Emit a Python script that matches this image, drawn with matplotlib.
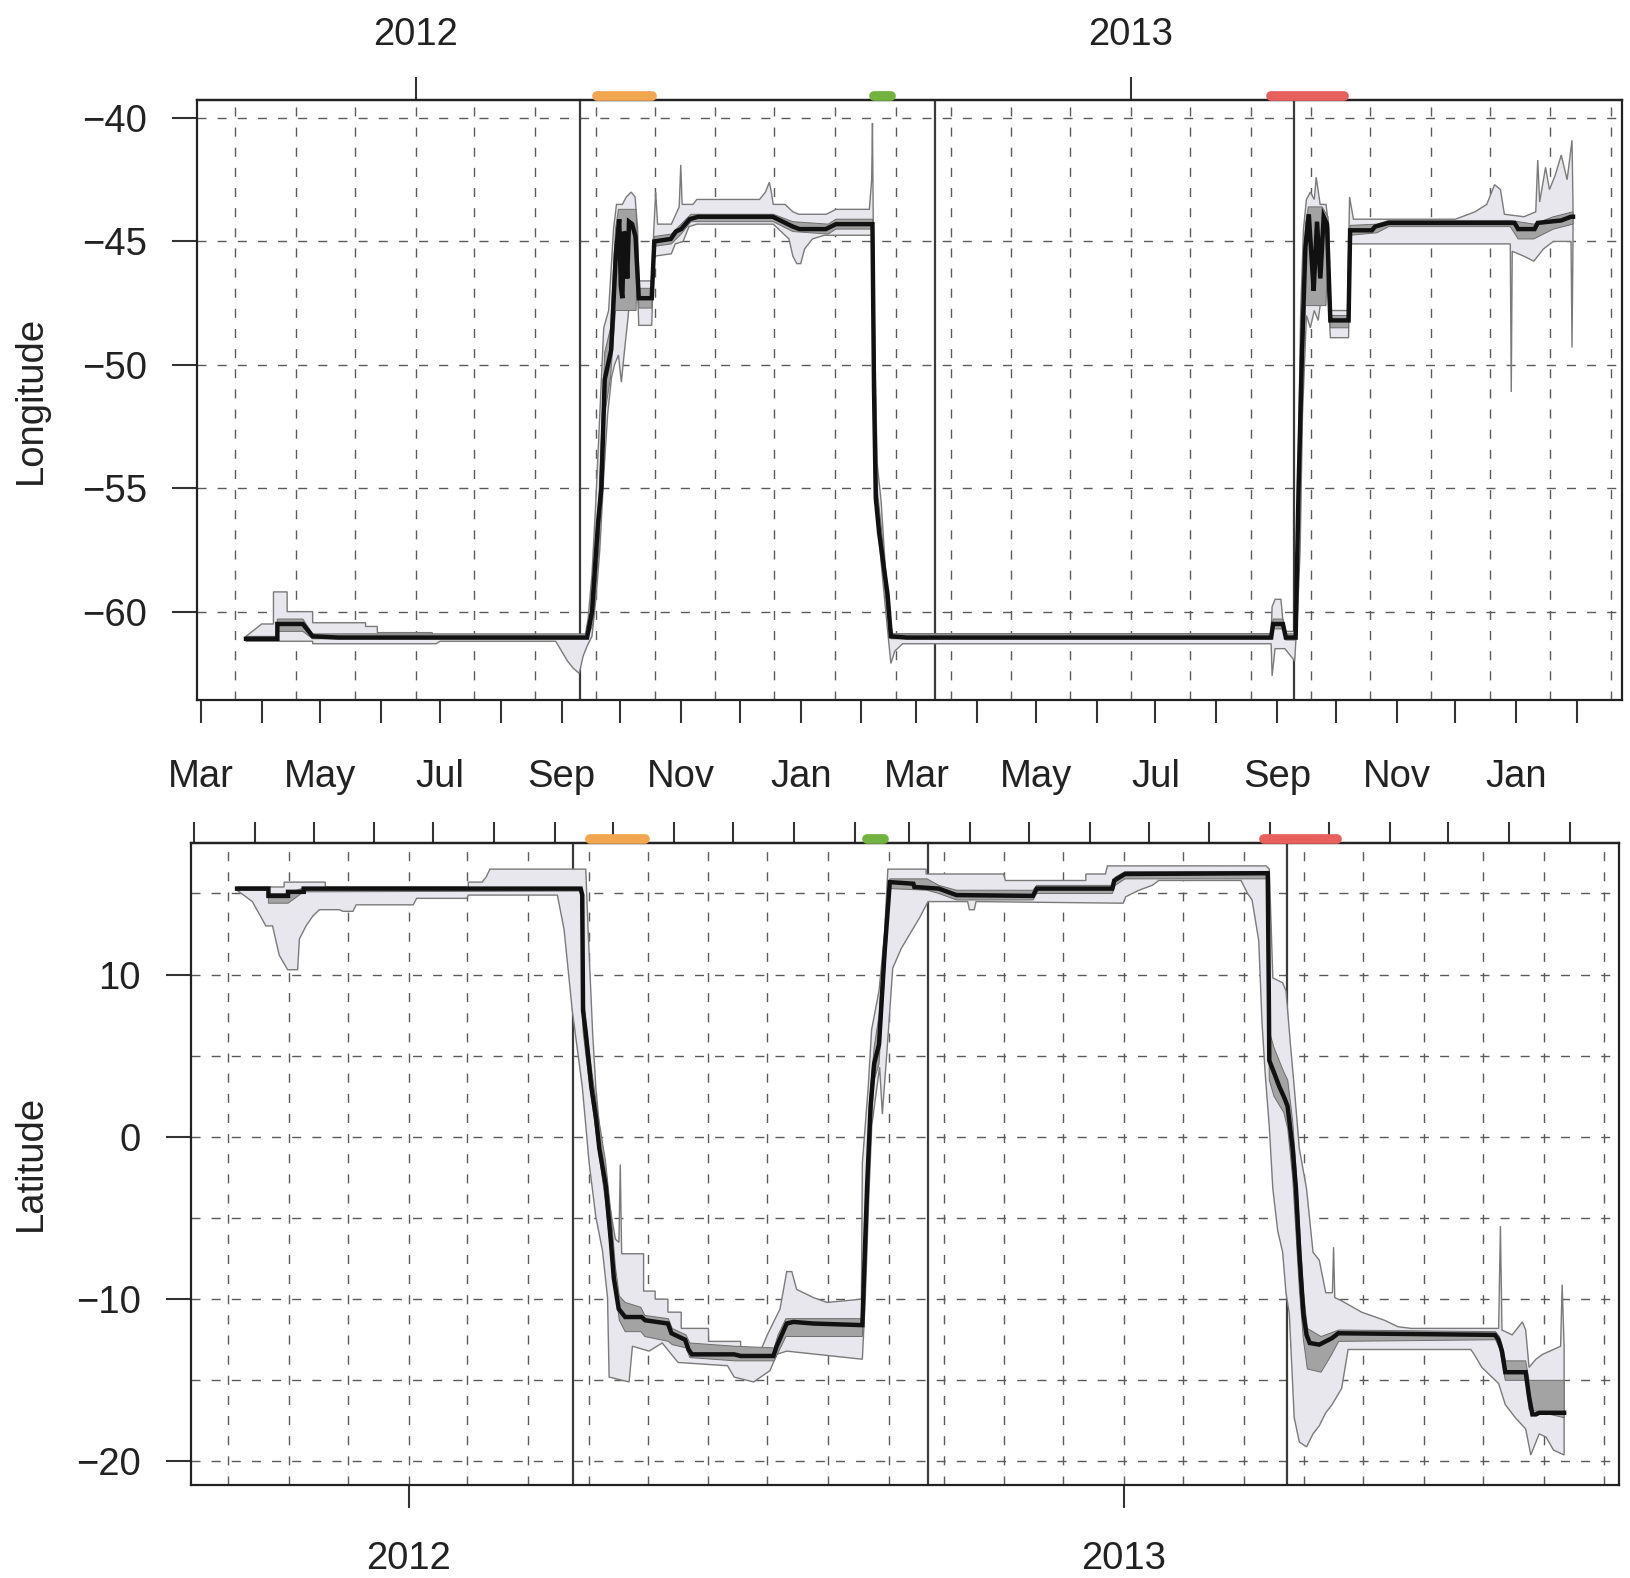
import numpy as np
import matplotlib
matplotlib.use("Agg")
import matplotlib.pyplot as plt
import matplotlib.dates as mdates
import matplotlib.transforms as mtransforms
from datetime import datetime

plt.rcParams['font.family'] = ['Liberation Sans', 'DejaVu Sans']

# ---------------- data (day offsets from 2012-03-01, value) ----------------
lon_median = [(23,-61.1),(39,-61.1),(39,-60.5),(52,-60.5),(57,-61.0),(70,-61.05),(197,-61.05),(199.5,-60.0),(202.6,-56.4),(204.3,-55.0),(206,-50.6),(209.3,-49.4),(211.7,-45.5),(213.4,-44.1),(214.2,-46.8),(215,-47.3),(215.8,-44.6),(216.7,-44.8),(217.5,-46.5),(218.4,-44.2),(220,-44.3),(221.7,-44.8),(223.4,-47.3),(230,-47.3),(231.3,-45.0),(239.7,-44.9),(242.3,-44.6),(245,-44.5),(249.3,-44.1),(253.6,-44.0),(291.7,-44.0),(302,-44.4),(305.4,-44.5),(318.8,-44.5),(324,-44.3),(342.6,-44.3),(343.4,-51.0),(344.3,-55.4),(346,-56.8),(350.3,-59.3),(352,-61.0),(360,-61.05),(546,-61.05),(547,-60.5),(552,-60.5),(553.5,-61.05),(558.5,-61.05),(560,-55),(561.8,-49.3),(563.5,-45.2),(565.2,-43.9),(566.5,-45.5),(567.7,-47.0),(569.4,-44.2),(571.1,-46.5),(572.8,-44.0),(574.5,-44.3),(576.2,-48.2),(585.5,-48.2),(586.3,-44.55),(597.4,-44.55),(599,-44.4),(605.8,-44.25),(670.2,-44.25),(672,-44.5),(680.4,-44.5),(682,-44.25),(694,-44.15),(699,-44.0),(700,-44.0)]

lon_outer_upper = [(23,-61.0),(31,-60.5),(37,-60.5),(37,-59.2),(44,-59.2),(44,-60.0),(57,-60.0),(57,-60.45),(84,-60.45),(84,-60.6),(90,-60.6),(90,-60.85),(118,-60.85),(118,-61.0),(196,-61.0),(197.5,-60.3),(199.5,-58.5),(201.5,-55.5),(203.5,-52.0),(205.5,-48.5),(208,-47.8),(210.5,-44.5),(212,-43.5),(215,-43.5),(217,-43.2),(219.5,-43.0),(221.5,-43.2),(222.8,-44.5),(223.4,-46.6),(230,-46.6),(231,-44.6),(232,-43.0),(233,-44.3),(240,-44.3),(244,-43.6),(244.8,-41.9),(245.5,-43.5),(251,-43.5),(253,-43.3),(285,-43.3),(288,-43.0),(290,-42.6),(291,-43.0),(292,-43.5),(298,-43.5),(302,-43.8),(305,-43.9),(319,-43.9),(324,-43.7),(341,-43.7),(342.2,-42.5),(342.6,-40.2),(343.0,-44.0),(343.6,-48.5),(345,-54.0),(347,-55.5),(349,-58.0),(351,-60.3),(353,-60.9),(546,-60.9),(546.5,-59.8),(548,-59.5),(551,-59.5),(552.5,-60.8),(558,-60.8),(559.5,-56.0),(561,-48.0),(562.5,-44.5),(564,-43.3),(566,-43.0),(568,-43.3),(569,-42.4),(571,-43.5),(574,-43.5),(575.5,-44.5),(576,-47.8),(585,-47.8),(586,-43.2),(588,-44.1),(640,-44.1),(650,-43.8),(656,-43.5),(660,-42.7),(663,-42.9),(665,-43.9),(675,-44.0),(681,-43.8),(682,-41.7),(683,-43.4),(686,-42.0),(688,-42.9),(691,-42.3),(694,-41.5),(697,-42.5),(699.5,-40.9),(700,-43.5)]

lon_outer_lower = [(23,-61.2),(57,-61.2),(57,-61.3),(120,-61.3),(122,-61.2),(181,-61.2),(184,-61.6),(187,-62.0),(190,-62.3),(193,-62.5),(195,-61.8),(197,-61.4),(199.5,-61.0),(201.5,-59.5),(203.5,-57.5),(205.5,-54.5),(207.5,-52.0),(209.5,-50.5),(211,-50.0),(213,-49.6),(214.5,-50.7),(216,-49.5),(218,-48.0),(220,-46.0),(222,-45.5),(223.4,-48.4),(230,-48.4),(231,-45.6),(240,-45.5),(242,-45.1),(246,-45.0),(249,-44.4),(253,-44.3),(292,-44.3),(296,-44.6),(300,-44.9),(302,-45.6),(304,-45.9),(306,-45.9),(308,-45.3),(312,-44.9),(318,-44.75),(342.6,-44.75),(343.4,-52.0),(345,-56.0),(347,-58.0),(350,-60.5),(352,-62.1),(354,-61.6),(358,-61.3),(546,-61.3),(546.5,-62.6),(548,-61.5),(553,-61.5),(556,-61.8),(558,-62.0),(559.5,-60.0),(560.8,-57.5),(562,-52.0),(564,-48.0),(566,-48.5),(568,-47.8),(570,-48.2),(572,-47.0),(574.5,-46.0),(576.2,-48.9),(585.5,-48.9),(586.3,-45.1),(668,-45.1),(668.5,-51.1),(669,-45.4),(675,-45.6),(680,-45.8),(685,-45.3),(690,-45.0),(699,-45.0),(699.5,-49.3),(700,-45.0)]

lon_inner_upper = [(23,-61.0),(39,-61.0),(39,-60.3),(52,-60.3),(57,-60.9),(197,-60.9),(200,-59.5),(203,-55.5),(206,-49.5),(209,-48.5),(211.5,-44.5),(213,-43.7),(222,-43.7),(223.4,-46.9),(230,-46.9),(231.3,-44.8),(240,-44.7),(245,-44.3),(250,-43.9),(292,-43.9),(302,-44.2),(320,-44.3),(324,-44.1),(342.6,-44.1),(343.4,-50.5),(345,-55.0),(347,-56.5),(350,-59.0),(352,-60.9),(546,-60.9),(547,-60.3),(552,-60.3),(553.5,-60.9),(558.5,-60.9),(560,-54),(561.8,-48),(563.5,-44.3),(565,-43.6),(572,-43.6),(575,-44.0),(576.2,-48.0),(585.5,-48.0),(586.3,-44.35),(600,-44.3),(606,-44.15),(668,-44.15),(680,-44.3),(690,-44.0),(700,-43.8)]

lon_inner_lower = [(23,-61.15),(39,-61.15),(39,-60.8),(52,-60.8),(57,-61.1),(197,-61.1),(200,-60.5),(203,-57.5),(206,-52),(209,-50.5),(211.5,-47.8),(222,-47.8),(222.6,-45.5),(223.4,-47.7),(230,-47.7),(231.3,-45.2),(240,-45.1),(245,-44.7),(250,-44.2),(292,-44.2),(302,-44.6),(320,-44.7),(324,-44.5),(342.6,-44.5),(343.4,-52),(345,-56),(347,-57.5),(350,-60),(352,-61.1),(546,-61.1),(547,-60.7),(552,-60.7),(553.5,-61.15),(558.5,-61.15),(560,-57),(561.8,-51),(563.5,-47.6),(574,-47.6),(575,-45),(576.2,-48.5),(585.5,-48.5),(586.3,-44.75),(600,-44.65),(606,-44.4),(668,-44.4),(672,-44.9),(680,-44.9),(690,-44.5),(700,-44.3)]

lat_median = [(22,15.3),(38,15.3),(38,14.85),(48,14.85),(48,15.1),(56,15.1),(56,15.3),(197.3,15.3),(198.1,14.9),(198.5,7.8),(199.9,6.4),(202.7,3.1),(205.1,1.2),(206.8,-0.7),(210.1,-3.0),(212.6,-6.3),(214.2,-8.7),(216.7,-10.6),(220,-11.1),(228.4,-11.1),(230.2,-11.3),(241.8,-11.5),(243.6,-12.1),(250.6,-12.5),(252.3,-13.1),(254,-13.4),(275.6,-13.4),(278.9,-13.5),(295.6,-13.5),(297.3,-12.9),(302.4,-11.5),(305.8,-11.4),(316,-11.5),(341,-11.6),(341.8,-8.7),(343.5,-2.8),(345.2,1.9),(347,4.5),(349.5,5.7),(352.3,11.3),(355,15.7),(367,15.6),(367.5,15.4),(380,15.3),(389,14.9),(428,14.85),(430,15.3),(468.5,15.3),(469.5,15.8),(475,16.2),(547.8,16.25),(548.3,9.5),(548.6,4.7),(551.2,3.9),(553.7,3.1),(556.3,2.4),(557.9,1.9),(560.5,-0.7),(562.2,-3.2),(563.9,-7.1),(566,-10.9),(567.6,-12.2),(569.2,-12.7),(574.1,-12.8),(580.6,-12.4),(583.8,-12.1),(663.7,-12.2),(665.5,-12.5),(667.3,-13.2),(669,-14.5),(679.4,-14.5),(681.1,-16.0),(682.8,-17.1),(684.6,-17.1),(686.3,-17.0),(699,-17.0)]

lat_outer_upper = [(22,15.4),(46,15.4),(46,15.7),(67,15.7),(67,15.4),(140,15.4),(140,15.7),(147,15.7),(149,16.0),(151,16.5),(199.9,16.5),(201,13.0),(203.4,6.4),(205,3.1),(208.5,-1.6),(211.8,-4.0),(215,-6.3),(216.8,-6.5),(217.5,-1.7),(218.2,-7.2),(229.4,-7.2),(229.4,-9.5),(235.3,-9.5),(235.3,-10.0),(241.8,-10.0),(241.8,-10.8),(248.6,-10.8),(248.6,-11.8),(262.5,-11.8),(262.5,-12.6),(278.9,-12.6),(278.9,-13.2),(289,-13.2),(292.5,-12.2),(299,-10.6),(302.4,-8.3),(305,-8.3),(307.5,-9.4),(316,-9.9),(323,-10.2),(340.5,-10.0),(341,-1.6),(344,3.1),(345.7,6.6),(349.5,9.0),(352.3,12.5),(354,16.5),(373.5,16.5),(373.5,16.2),(413,16.2),(414,15.8),(455,15.8),(455,16.2),(465,16.2),(466,16.7),(547,16.7),(548.6,16.5),(550.4,9.8),(555.4,9.5),(557.1,9.0),(559.6,5.4),(561.3,3.1),(563.9,-0.7),(567.6,-3.2),(570.9,-7.1),(574.1,-7.6),(577.4,-9.6),(580.8,-9.6),(581.4,-6.8),(582,-9.9),(585.5,-10.1),(595.7,-10.8),(607.4,-11.3),(614.3,-11.7),(621,-11.8),(665.6,-11.8),(666.5,-5.5),(667.3,-11.9),(672.5,-12.2),(677.7,-11.4),(679.4,-11.9),(681.1,-14.2),(684.6,-13.7),(688,-13.4),(697.2,-12.9),(698,-9.1),(699,-12.9)]

lat_outer_lower = [(22,15.2),(29.8,14.5),(36.7,13.0),(40.1,13.0),(43.5,11.2),(47.8,10.3),(52.9,10.3),(53.8,12.2),(57.2,13.0),(60.6,13.6),(64,14.0),(74.3,14.0),(76,13.9),(81.1,13.9),(82.8,14.3),(111.9,14.3),(113.6,14.7),(139.2,14.7),(140,14.9),(185.4,14.9),(188.8,12.8),(193,7.8),(195.6,5.4),(198.1,3.1),(199.9,0.7),(201.6,-1.6),(205,-4.9),(208.4,-7.0),(211,-9.9),(211.8,-14.8),(222,-15.1),(223.7,-12.9),(232.2,-13.2),(238.9,-12.7),(243.6,-13.4),(247,-13.9),(272.2,-14.1),(275.6,-14.8),(285.5,-15.1),(293.9,-14.4),(297.3,-13.4),(302.4,-13.2),(341,-13.7),(342.5,-9.9),(344.2,-4.0),(345.8,0.7),(349.8,4.3),(351.2,1.4),(353.5,5.2),(356.5,10.4),(360.8,11.6),(365.7,12.6),(370.2,13.5),(374.5,14.5),(394.7,14.5),(395.6,14.0),(398.1,14.0),(399,14.5),(474,14.4),(475.4,14.8),(482.1,15.2),(488.9,15.5),(492.2,15.8),(534.2,15.8),(537.5,15.0),(539.8,14.6),(543.2,12.1),(544.9,7.0),(546.5,3.9),(548.6,0.6),(550.4,-3.2),(552.9,-5.8),(555.4,-7.1),(557.1,-9.6),(558.8,-10.9),(561.3,-17.3),(563.9,-18.8),(567.6,-19.1),(570.9,-18.3),(574.1,-17.8),(577.4,-17.0),(580.6,-16.5),(585.5,-15.5),(588.8,-13.1),(651.4,-13.1),(653.1,-13.4),(657,-14.2),(665.6,-15.2),(669,-16.5),(674.1,-17.3),(679.4,-18.0),(682,-19.6),(686.3,-18.3),(689.8,-18.5),(693.6,-19.3),(699,-19.6)]

lat_inner_upper = [(22,15.35),(38,15.35),(38,15.0),(48,15.0),(56,15.35),(197.3,15.35),(198.5,9),(200,7),(203,4),(206,1.5),(210,-1.5),(213,-5),(215,-8),(217,-9.8),(220,-10.2),(228,-10.5),(230,-11.0),(242,-11.2),(244,-11.8),(251,-12.2),(253,-12.7),(276,-12.9),(296,-13.0),(298,-12.2),(302,-11.2),(341,-11.2),(341.8,-7.5),(343.5,-1.5),(345.2,3.0),(347,5.5),(349.5,7.5),(352.3,12.5),(355,15.9),(374,15.9),(380,15.5),(389,15.2),(428,15.2),(430,15.5),(468.5,15.5),(470,16.0),(475,16.35),(547.8,16.35),(548.3,10.5),(548.6,6.5),(551,5.5),(556,4.0),(558,3.5),(560.5,1.0),(562,-1.5),(564,-5.5),(566,-9.5),(568,-11.8),(575,-12.3),(584,-11.9),(664,-12.0),(666,-12.3),(667.3,-12.8),(669,-13.8),(679.4,-13.8),(681.1,-15.0),(699,-15.0)]

lat_inner_lower = [(22,15.2),(38,15.2),(38,14.4),(48,14.4),(56,15.1),(197.3,15.15),(198.5,6.5),(200,5.0),(203,2.2),(206,-0.5),(210,-4.0),(213,-7.5),(215,-9.5),(217,-11.3),(220,-12.0),(228,-12.0),(230,-12.3),(242,-12.6),(244,-12.8),(251,-13.0),(253,-13.6),(276,-13.8),(296,-13.8),(298,-13.3),(302,-12.3),(341,-12.3),(341.8,-10),(343.5,-4.5),(345.2,0.5),(347,3.5),(349.5,4.5),(352.3,10),(355,15.3),(374,15.2),(380,15.0),(389,14.6),(428,14.6),(430,15.0),(468.5,15.0),(470,15.5),(475,15.9),(547.8,15.9),(548.3,6.5),(548.6,3.5),(551,2.5),(556,1.5),(558,0.5),(560.5,-2.5),(562,-5.5),(564,-9.5),(566,-12.5),(568,-14.3),(575,-14.5),(580,-13.5),(584,-12.6),(664,-12.5),(666,-13.0),(667.3,-13.8),(669,-15.0),(679.4,-15.0),(681.1,-16.8),(699,-17.3)]

# vertical reference lines (days from 2012-03-01)
event_days = [193.3, 374.5, 557.5]
# coloured periods: (start day, end day, colour)
periods = [(199.5, 232.5, '#F2A650'), (341.0, 354.5, '#72B23E'), (543.5, 585.5, '#E8605E')]

year_labels = ['2012', '2013']
year_ticks = [datetime(2012, 6, 18, 12), datetime(2013, 6, 18, 12)]
month_ticks = [datetime(2012 + (2 + i) // 12, (2 + i) % 12 + 1, 1) for i in range(24)]
month_names = ['Jan','Feb','Mar','Apr','May','Jun','Jul','Aug','Sep','Oct','Nov','Dec']
month_labels = [month_names[t.month - 1] if t.month % 2 == 1 else '' for t in month_ticks]
grid_dates = [datetime(2012 + (2 + i) // 12, (2 + i) % 12 + 1, 18, 12) for i in range(24)]

lon_yticks = [-40, -45, -50, -55, -60]
lat_yticks = [10, 0, -10, -20]
lat_ygrid = [15, 10, 5, 0, -5, -10, -15, -20]

# ---------------- drawing ----------------
BASE = mdates.date2num(datetime(2012, 3, 1))
W, H = 1631, 1578
FS = 27.5
TXT = '#222222'

fig = plt.figure(figsize=(W / 100, H / 100), dpi=100)
ax1 = fig.add_axes([197 / W, 1 - 700 / H, (1622 - 197) / W, 600 / H])
ax2 = fig.add_axes([191 / W, 1 - 1485 / H, (1619 - 191) / W, 642 / H])


def xy(pts):
    a = np.array(pts, dtype=float)
    return BASE + a[:, 0], a[:, 1]


def band(ax, up, lo, fc, ec, lw, z):
    xu, yu = xy(up)
    xl, yl = xy(lo)
    ax.fill(np.concatenate([xu, xl[::-1]]), np.concatenate([yu, yl[::-1]]),
            facecolor=fc, edgecolor=ec, linewidth=lw, zorder=z)


def panel(ax, med, ou, ol, iu, il, ylim, yticks, ygrid, xlim):
    ax.set_xlim(BASE + xlim[0], BASE + xlim[1])
    ax.set_ylim(*ylim)
    for g in grid_dates:
        ax.axvline(mdates.date2num(g), color='#5a5a5a', lw=1.0, dashes=(6.5, 8), zorder=1)
    for g in ygrid:
        ax.axhline(g, color='#5a5a5a', lw=1.0, dashes=(6.5, 8), zorder=1)
    for e in event_days:
        ax.axvline(BASE + e, color='#3a3a3a', lw=1.6, zorder=2)
    band(ax, ou, ol, '#E7E7ED', '#7a7a7a', 1.0, 3)
    band(ax, iu, il, '#A3A3A3', '#6e6e6e', 0.7, 4)
    xm, ym = xy(med)
    ax.plot(xm, ym, color='#111111', lw=3.2, zorder=5, solid_joinstyle='miter')
    for s in ax.spines.values():
        s.set_linewidth(1.6)
        s.set_color('#222222')
    ax.set_yticks(yticks)
    ax.tick_params(axis='y', direction='out', length=18, width=1.5, pad=18,
                   labelsize=FS, colors='#333333', labelcolor=TXT)
    # coloured period bars at top edge
    tr = mtransforms.offset_copy(ax.get_xaxis_transform(), fig=fig, y=4, units='dots')
    for s0, s1, c in periods:
        ax.plot([BASE + s0 + 2.5, BASE + s1 - 2.5], [1.0, 1.0], transform=tr, color=c,
                lw=7, solid_capstyle='round', clip_on=False, zorder=10)


panel(ax1, lon_median, lon_outer_upper, lon_outer_lower, lon_inner_upper, lon_inner_lower,
      (-63.58, -39.27), lon_yticks, lon_yticks, (-2, 725))
panel(ax2, lat_median, lat_outer_upper, lat_outer_lower, lat_inner_upper, lat_inner_lower,
      (-21.45, 18.11), lat_yticks, lat_ygrid, (-1.5, 727))

# top panel: months below, years above
ax1.set_xticks([mdates.date2num(t) for t in month_ticks])
ax1.set_xticklabels(month_labels)
ax1.tick_params(axis='x', direction='out', length=16.5, width=1.5, pad=26,
                labelsize=FS, colors='#333333', labelcolor=TXT)
sec1 = ax1.secondary_xaxis('top')
sec1.set_xticks([mdates.date2num(t) for t in year_ticks])
sec1.set_xticklabels(year_labels)
sec1.tick_params(axis='x', direction='out', length=16.5, width=1.5, pad=17,
                 labelsize=FS, colors='#333333', labelcolor=TXT)
sec1.spines['top'].set_linewidth(1.6)

# bottom panel: months above (no labels), years below
ax2.set_xticks([mdates.date2num(t) for t in year_ticks])
ax2.set_xticklabels(year_labels)
ax2.tick_params(axis='x', direction='out', length=16.5, width=1.5, pad=24,
                labelsize=FS, colors='#333333', labelcolor=TXT)
sec2 = ax2.secondary_xaxis('top')
sec2.set_xticks([mdates.date2num(t) for t in month_ticks])
sec2.set_xticklabels([''] * len(month_ticks))
sec2.tick_params(axis='x', direction='out', length=15, width=1.5,
                 colors='#333333')
sec2.spines['top'].set_linewidth(1.6)

fig.text(31 / W, 1 - 400 / H, 'Longitude', rotation=90, ha='center', va='center',
         fontsize=FS, color=TXT)
fig.text(31 / W, 1 - 1163 / H, 'Latitude', rotation=90, ha='center', va='center',
         fontsize=FS, color=TXT)

fig.savefig('out.png', dpi=100)
